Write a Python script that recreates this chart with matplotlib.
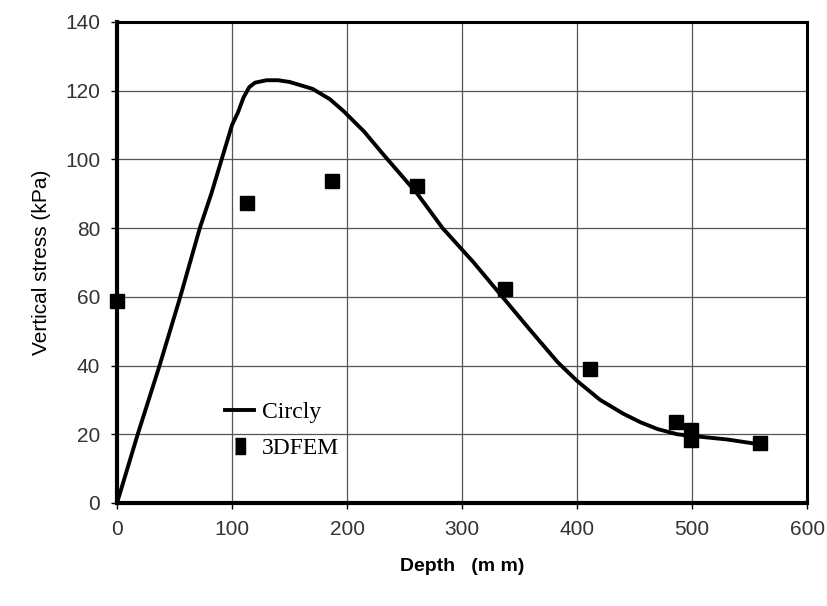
import matplotlib.pyplot as plt

# Circly curve
circly_depth = [0, 18, 37, 55, 72, 82, 91, 100, 105, 110, 115, 120, 130, 140,
                150, 170, 185, 197, 215, 230, 261, 283, 310, 335, 360, 383, 400,
                420, 440, 455, 470, 487, 500, 530, 560]
circly_stress = [0, 20, 40, 60, 80, 90, 100, 110, 113.5, 118, 121, 122.3, 123, 123,
                 122.5, 120.5, 117.5, 114, 108, 102, 90, 80, 70, 60, 50, 41, 35.5,
                 30, 26, 23.5, 21.5, 20, 19.5, 18.5, 17]

# 3DFEM points
fem_depth = [0, 113, 187, 261, 337, 411, 486, 499, 499, 559]
fem_stress = [58.8, 87.3, 93.7, 92.3, 62.3, 39, 23.6, 21.2, 18.3, 17.5]

xticks = [0, 100, 200, 300, 400, 500, 600]
yticks = [0, 20, 40, 60, 80, 100, 120, 140]

plt.rcParams["font.family"] = ["Liberation Sans", "DejaVu Sans"]

fig = plt.figure(figsize=(8.27, 6.06), dpi=100)
ax = fig.add_axes([0.1415, 0.170, 0.8345, 0.794])

ax.plot(circly_depth, circly_stress, color="black", lw=2.8, label="Circly", zorder=3)
ax.plot(fem_depth, fem_stress, ls="none", marker="s", ms=10.5, color="black",
        label="3DFEM", zorder=4, clip_on=False)

ax.set_xlim(0, 600)
ax.set_ylim(0, 140)
ax.set_xticks(xticks)
ax.set_yticks(yticks)
ax.grid(True, color="#555555", lw=0.9)
ax.set_axisbelow(True)
ax.tick_params(labelsize=15, labelcolor="#333333", direction="out", length=4,
               width=1, pad=8)

for side in ["left", "bottom"]:
    ax.spines[side].set_linewidth(3)
for side in ["top", "right"]:
    ax.spines[side].set_linewidth(2.2)

ax.set_xlabel("Depth   (m m)", fontsize=14, fontweight="bold", labelpad=14)
ax.set_ylabel("Vertical stress (kPa)", fontsize=15, labelpad=10)

leg = ax.legend(loc="upper left", bbox_to_anchor=(0.14, 0.235), frameon=False,
                prop={"family": "Liberation Serif", "size": 17},
                handlelength=1.2, handletextpad=0.35, labelspacing=0.6,
                borderpad=0)
leg.legend_handles[1].set_marker([(-0.28, -0.5), (0.28, -0.5), (0.28, 0.5), (-0.28, 0.5)])
leg.legend_handles[1].set_markersize(12)

fig.savefig("out.png", dpi=100)
